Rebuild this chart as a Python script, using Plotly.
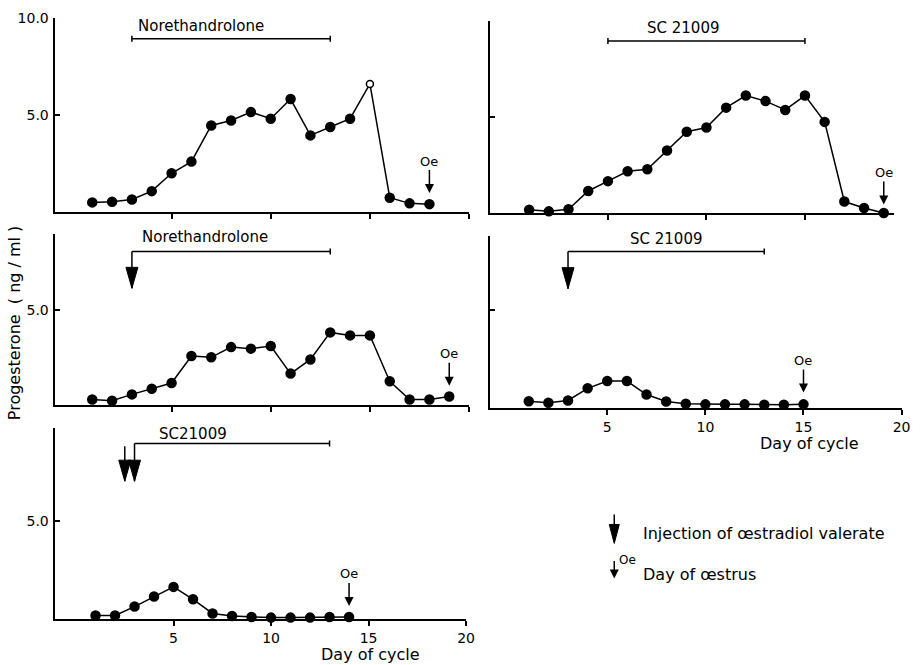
import plotly.graph_objects as go

# ---------------- data ----------------
days_tl = list(range(1, 19))
prog_tl = [0.52, 0.55, 0.67, 1.1, 2.02, 2.62, 4.48, 4.74, 5.17, 4.83, 5.84, 3.97, 4.4, 4.83, 6.62, 0.76, 0.47, 0.43]
open_point_tl = 15  # day drawn with an open circle

days_tr = list(range(1, 20))
prog_tr = [0.17, 0.09, 0.2, 1.15, 1.66, 2.17, 2.28, 3.25, 4.23, 4.45, 5.48, 6.11, 5.82, 5.36, 6.11, 4.74, 0.6, 0.26, 0.0]

days_ml = list(range(1, 20))
prog_ml = [0.27, 0.2, 0.54, 0.84, 1.14, 2.57, 2.5, 3.04, 2.96, 3.1, 1.64, 2.39, 3.82, 3.66, 3.66, 1.23, 0.27, 0.27, 0.43]

days_mr = list(range(1, 16))
prog_mr = [0.35, 0.27, 0.39, 1.01, 1.38, 1.38, 0.69, 0.34, 0.22, 0.19, 0.19, 0.19, 0.17, 0.17, 0.19]

days_bl = list(range(1, 15))
prog_bl = [0.2, 0.2, 0.65, 1.16, 1.65, 1.02, 0.3, 0.17, 0.12, 0.09, 0.09, 0.09, 0.12, 0.12]

treatment_names = ["Norethandrolone", "SC 21009", "Norethandrolone", "SC 21009", "SC21009"]
treatment_start = [3, 5, 3, 3, 3]
treatment_end = [13, 15, 13, 13, 13]
injection_days = [[], [], [3], [3], [2.5, 3]]
oestrus_day = [18, 19, 19, 15, 14]

x_tick_vals = [5, 10, 15, 20]
x_tick_text = ["5", "10", "15", "20"]

legend_text = ["Injection of œstradiol valerate", "Day of œstrus"]
y_title = "Progesterone  ( ng / ml )"
x_title = "Day of cycle"

# ---------------- layout helpers ----------------
W, H = 921, 665
# the photographed page shows the figure slightly scaled and offset; map target pixels accordingly
SC, OX, OY = 0.989, 1.5, 8.0
def fx(px):
    return ((px - OX) / SC) / W
def fy(py):
    return 1 - ((py - OY) / SC) / H

FONT = "DejaVu Sans"
BLACK = "black"

panels = [
    dict(days=days_tl, vals=prog_tl, xd=(56, 470), yd=(212.7, 18.3), xr=(-0.9, 20), yr=(0, 10),
         yt=[5, 10], ylab=True, xlab=False, bracket_y=8.94, label_xy=(6.5, 9.6),
         inj_tip=None, inj_top=None, oe_tip=1.0),
    dict(days=days_tr, vals=prog_tr, xd=(491, 894), yd=(213.3, 20.7), xr=(-0.98, 19.5), yr=(0, 10),
         yt=[5, 10], ylab=False, xlab=False, bracket_y=8.95, label_xy=(8.8, 9.6),
         inj_tip=None, inj_top=None, oe_tip=0.45),
    dict(days=days_ml, vals=prog_ml, xd=(56, 470), yd=(405, 234.7), xr=(-0.9, 20), yr=(0, 9.0),
         yt=[5], ylab=True, xlab=False, bracket_y=8.1, label_xy=(6.7, 8.85),
         inj_tip=6.15, inj_top=[8.1], oe_tip=1.0),
    dict(days=days_mr, vals=prog_mr, xd=(491, 902), yd=(408.5, 236), xr=(-0.97, 20), yr=(0, 8.8),
         yt=[5], ylab=False, xlab=True, bracket_y=8.0, label_xy=(8.0, 8.65),
         inj_tip=6.1, inj_top=[8.0], oe_tip=0.8),
    dict(days=days_bl, vals=prog_bl, xd=(56, 467), yd=(620, 428.3), xr=(-1.1, 20), yr=(0, 9.73),
         yt=[5], ylab=True, xlab=True, bracket_y=8.93, label_xy=(6.0, 9.4),
         inj_tip=7.02, inj_top=[8.8, 8.93], oe_tip=0.68),
]

fig = go.Figure()
layout = dict(
    width=W, height=H, autosize=False,
    margin=dict(l=0, r=0, t=0, b=0, pad=0),
    paper_bgcolor="white", plot_bgcolor="white",
    showlegend=False,
    font=dict(family=FONT, color=BLACK, size=14),
)
shapes = []
annotations = []

def txt(x, y, text, size=14, xref="paper", yref="paper", xanchor="center", yanchor="middle", **kw):
    d = dict(xref=xref, yref=yref, x=x, y=y, text=text, showarrow=False,
             xanchor=xanchor, yanchor=yanchor,
             font=dict(size=size, family=FONT, color=BLACK))
    d.update(kw)
    return d

for i, p in enumerate(panels):
    k = "" if i == 0 else str(i + 1)
    xa, ya = "x" + k, "y" + k
    sizes, fills = [], []
    for d in p["days"]:
        if i == 0 and d == open_point_tl:
            sizes.append(7)
            fills.append("white")
        else:
            sizes.append(9)
            fills.append(BLACK)
    fig.add_trace(go.Scatter(
        x=p["days"], y=p["vals"], mode="lines+markers",
        line=dict(color=BLACK, width=1.5),
        marker=dict(size=sizes, color=fills, opacity=1, line=dict(color=BLACK, width=1.5)),
        xaxis=xa, yaxis=ya, cliponaxis=False, hoverinfo="x+y",
    ))
    layout["xaxis" + k] = dict(
        domain=[fx(p["xd"][0]), fx(p["xd"][1])], range=list(p["xr"]), anchor=ya,
        showline=True, linecolor=BLACK, linewidth=2, mirror=False,
        ticks="outside", ticklen=5, tickwidth=1.5, tickcolor=BLACK,
        tickvals=x_tick_vals, ticktext=x_tick_text, showticklabels=p["xlab"],
        tickfont=dict(size=14, family=FONT, color=BLACK),
        showgrid=False, zeroline=False, fixedrange=True,
    )
    layout["yaxis" + k] = dict(
        domain=[fy(p["yd"][0]), fy(p["yd"][1])], range=list(p["yr"]), anchor=xa,
        showline=True, linecolor=BLACK, linewidth=2,
        ticks="inside", ticklen=5, tickwidth=1.5, tickcolor=BLACK,
        tickvals=p["yt"], ticktext=["%.1f" % v for v in p["yt"]], showticklabels=p["ylab"],
        tickfont=dict(size=14, family=FONT, color=BLACK), ticklabelstandoff=1,
        ticklabeloverflow="allow",
        showgrid=False, zeroline=False, fixedrange=True,
    )
    # treatment bracket
    s, e, yb = treatment_start[i], treatment_end[i], p["bracket_y"]
    shapes.append(dict(type="line", xref=xa, yref=ya, x0=s, x1=e, y0=yb, y1=yb,
                       line=dict(color=BLACK, width=1.5)))
    ends = [e] if injection_days[i] else [s, e]
    for xe in ends:
        shapes.append(dict(type="line", xref=xa, yref=ya, x0=xe, x1=xe,
                           ysizemode="pixel", yanchor=yb, y0=-3, y1=3,
                           line=dict(color=BLACK, width=1.5)))
    annotations.append(txt(p["label_xy"][0], p["label_xy"][1], treatment_names[i], 15, xref=xa, yref=ya))
    # injection arrows
    for j, dinj in enumerate(injection_days[i]):
        top = p["inj_top"][j]
        shapes.append(dict(type="line", xref=xa, yref=ya, x0=dinj, x1=dinj,
                           y0=p["inj_tip"], y1=top, line=dict(color=BLACK, width=1.5)))
        shapes.append(dict(type="path", xref=xa, yref=ya,
                           xsizemode="pixel", ysizemode="pixel",
                           xanchor=dinj, yanchor=p["inj_tip"],
                           path="M -6,21 L 6,21 L 0,0 Z",
                           fillcolor=BLACK, line=dict(color=BLACK, width=1)))
    # day of oestrus arrow
    annotations.append(dict(xref=xa, yref=ya, x=oestrus_day[i], y=p["oe_tip"],
                            ax=0, ay=-32, text="Oe", showarrow=True,
                            xanchor="center", yanchor="middle",
                            arrowhead=2, arrowsize=1.2, arrowwidth=1.5, arrowcolor=BLACK,
                            font=dict(size=13, family=FONT, color=BLACK)))

# axis titles
annotations.append(txt(fx(16), fy(323), y_title, 16, textangle=-90))
annotations.append(txt(fx(372), fy(655), x_title, 16))
annotations.append(txt(fx(810), fy(444), x_title, 16))

# key
shapes.append(dict(type="line", xref="paper", yref="paper", x0=fx(615), x1=fx(615),
                   y0=fy(515), y1=fy(530), line=dict(color=BLACK, width=1.5)))
shapes.append(dict(type="path", xref="paper", yref="paper",
                   path="M %f,%f L %f,%f L %f,%f Z" % (fx(610), fy(525), fx(620), fy(525), fx(615), fy(544)),
                   fillcolor=BLACK, line=dict(color=BLACK, width=1)))
annotations.append(txt(fx(642), fy(534), legend_text[0], 16, xanchor="left"))
annotations.append(dict(xref="paper", yref="paper", x=fx(615), y=fy(579), ax=0, ay=-19,
                        text="", showarrow=True, arrowhead=2, arrowsize=1.2, arrowwidth=1.5,
                        arrowcolor=BLACK))
annotations.append(txt(fx(628), fy(561), "Oe", 12))
annotations.append(txt(fx(642), fy(575), legend_text[1], 16, xanchor="left"))

layout["shapes"] = shapes
layout["annotations"] = annotations
fig.update_layout(**layout)
# remove the default page margin so the figure sits at the page origin
fig.write_html("out.html", config={"displayModeBar": False},
               post_script="document.body.style.margin='0px';")
